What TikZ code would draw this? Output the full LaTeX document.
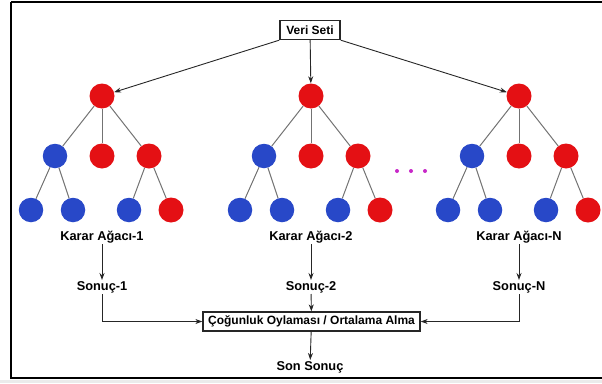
\documentclass[tikz,border=0pt]{standalone}
\usepackage{fontspec}
\setmainfont{Liberation Sans}
\usetikzlibrary{arrows.meta}
\definecolor{nred}{RGB}{228,16,20}
\definecolor{nblue}{RGB}{40,72,200}
\definecolor{dotc}{RGB}{200,40,200}
\begin{document}
\begin{tikzpicture}[x=1pt,y=-1pt,
  rn/.style={circle,fill=nred,minimum size=25pt,inner sep=0pt},
  bn/.style={circle,fill=nblue,minimum size=24.5pt,inner sep=0pt},
  edge/.style={draw=black!55,line width=1pt},
  arr/.style={draw=black!85,line width=0.9pt,-{Stealth[length=7pt,width=5pt]}},
  box/.style={draw=black!85,line width=1.3pt,font=\bfseries\fontsize{12}{14}\selectfont,inner sep=0pt},
  lbl/.style={font=\bfseries\fontsize{12.8}{15}\selectfont,inner sep=1pt},
  dot/.style={circle,fill=dotc,minimum size=4pt,inner sep=0pt}]
\useasboundingbox (0,0) rectangle (602,383);
\fill[black!8] (0,379.5) rectangle (602,383);
\draw[line width=1.6pt] (11,2) -- (11,378) -- (606,378);
\draw[line width=1.6pt] (11,2) -- (606,2);

\node[box,minimum width=60pt,minimum height=19pt] (vs) at (310,30) {Veri Seti};

\foreach \i/\x/\t in {1/102/1, 2/311/2, 3/519/N}{
  \node[rn] (r\i) at (\x,96) {};
  \node[bn] (a\i) at (\x-47,156) {};
  \node[rn] (b\i) at (\x,156) {};
  \node[rn] (c\i) at (\x+47,156) {};
  \node[bn] (d\i) at (\x-71,210) {};
  \node[bn] (e\i) at (\x-29,210) {};
  \node[bn] (f\i) at (\x+27,210) {};
  \node[rn] (g\i) at (\x+69,210) {};
  \draw[edge] (r\i) -- (a\i);
  \draw[edge] (r\i) -- (b\i);
  \draw[edge] (r\i) -- (c\i);
  \draw[edge] (a\i) -- (d\i);
  \draw[edge] (a\i) -- (e\i);
  \draw[edge] (c\i) -- (f\i);
  \draw[edge] (c\i) -- (g\i);
  \node[lbl] (k\i) at (\x,237) {Karar Ağacı-\t};
  \node[lbl] (s\i) at (\x,287) {Sonuç-\t};
  \draw[arr] (k\i) -- (s\i);
}

\draw[arr] (vs.south west) -- (r1);
\draw[arr] (vs) -- (r2);
\draw[arr] (vs.south east) -- (r3);

\node[dot] (p1) at (397,171) {};
\node[dot] (p2) at (411,171) {};
\node[dot] (p3) at (425,171) {};

\node[box,minimum width=217pt,minimum height=19pt] (cb) at (311.5,321.5) {Çoğunluk Oylaması / Ortalama Alma};
\node[lbl] (ss) at (310,367) {Son Sonuç};

\draw[arr] (s1) |- (cb.west);
\draw[arr] (s3) |- (cb.east);
\draw[arr] (s2) -- (cb);
\draw[arr] (cb) -- (ss);
\end{tikzpicture}
\end{document}
